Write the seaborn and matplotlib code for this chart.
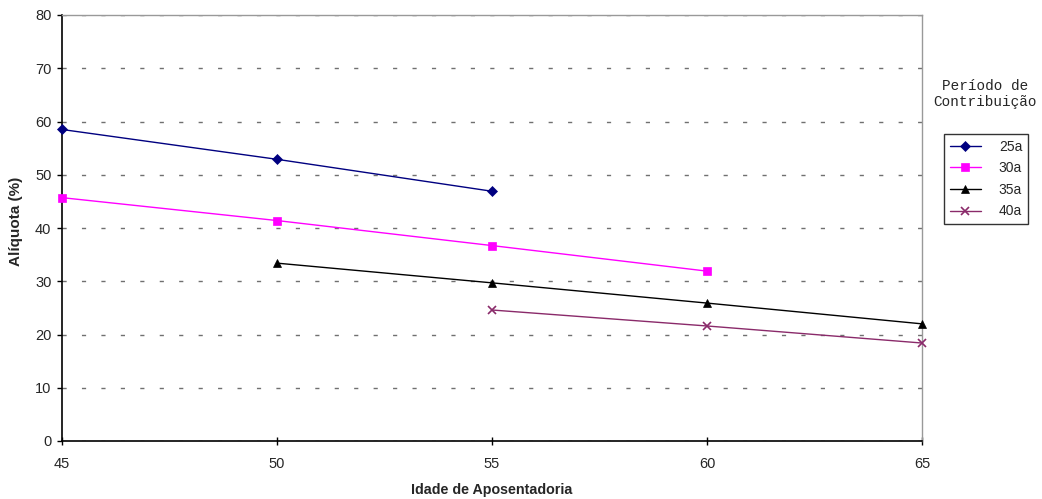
import matplotlib
matplotlib.use("Agg")
import matplotlib.pyplot as plt
import seaborn as sns
import pandas as pd

ages_25 = [45, 50, 55]
vals_25 = [58.5, 52.9, 46.9]
ages_30 = [45, 50, 55, 60]
vals_30 = [45.7, 41.4, 36.7, 31.9]
ages_35 = [50, 55, 60, 65]
vals_35 = [33.4, 29.7, 25.9, 22.0]
ages_40 = [55, 60, 65]
vals_40 = [24.6, 21.6, 18.4]
series = ["25a", "30a", "35a", "40a"]

rows = []
for name, xs, ys in zip(series, [ages_25, ages_30, ages_35, ages_40],
                        [vals_25, vals_30, vals_35, vals_40]):
    for x, y in zip(xs, ys):
        rows.append({"Idade": x, "Aliquota": y, "Periodo": name})
df = pd.DataFrame(rows)

sns.set_theme(style="white")
plt.rcParams["font.family"] = ["Liberation Sans", "DejaVu Sans"]

fig = plt.figure(figsize=(10.42, 4.99), dpi=100)
ax = fig.add_axes([62/1042, 1-441/499, (922-62)/1042, (441-15)/499])

colors = {"25a": "#000080", "30a": "#FF00FF", "35a": "#000000", "40a": "#8A2A6A"}
markers = {"25a": "D", "30a": "s", "35a": "^", "40a": "x"}
msize = {"25a": 5, "30a": 6, "35a": 6, "40a": 6}

for name in series:
    sub = df[df["Periodo"] == name]
    sns.lineplot(data=sub, x="Idade", y="Aliquota", ax=ax, color=colors[name],
                 marker=markers[name], markersize=msize[name], linewidth=1.0,
                 markeredgecolor=colors[name], markeredgewidth=1.2 if name == "40a" else 0.5,
                 label=name, clip_on=False, zorder=3)

ax.set_xlim(45, 65)
ax.set_ylim(0, 80)
ax.set_xticks([45, 50, 55, 60, 65])
ax.set_yticks(range(0, 81, 10))
ax.yaxis.grid(True, linestyle=(0, (3, 11)), color="#707070", linewidth=1)
ax.xaxis.grid(False)
ax.set_axisbelow(True)

for side in ["top", "right"]:
    ax.spines[side].set_color("#999999")
    ax.spines[side].set_linewidth(1)
for side in ["left", "bottom"]:
    ax.spines[side].set_color("black")
    ax.spines[side].set_linewidth(1.2)

ax.tick_params(axis="y", direction="out", length=3.6, width=1, color="black",
               labelsize=10.5, left=True, pad=4)
ax.tick_params(axis="x", direction="inout", length=6, width=1, color="black",
               labelsize=10.5, bottom=True, pad=8.5)

ax.set_xlabel("Idade de Aposentadoria", fontsize=10.3, fontweight="bold", labelpad=9)
ax.set_ylabel("Alíquota (%)", fontsize=11, fontweight="bold")
ax.yaxis.set_label_coords((23 - 62) / 860, (441 - 221) / 426)

fig.text(985/1042, 1-94/499, "Período de\nContribuição", family=["Liberation Mono", "DejaVu Sans Mono"],
         fontsize=10.4, ha="center", va="center", linespacing=1.2)

leg = ax.legend(loc="upper left", bbox_to_anchor=(944/1042, 1-134/499),
                bbox_transform=fig.transFigure, frameon=True, fancybox=False,
                edgecolor="black", fontsize=10, handlelength=2.25,
                borderpad=0.4, labelspacing=0.55, handletextpad=1.3,
                borderaxespad=0)
leg.get_frame().set_linewidth(1)

fig.savefig("out.png", dpi=100)
